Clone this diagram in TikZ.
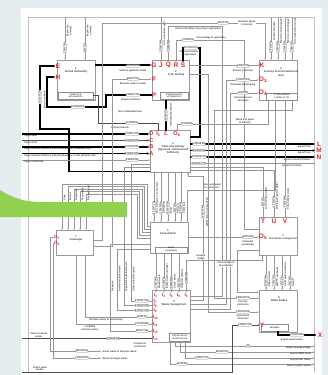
\documentclass[tikz,border=0pt]{standalone}
\usepackage{fontspec}
\setmainfont{Liberation Sans}
\usetikzlibrary{arrows.meta,positioning,calc}

\definecolor{pagebg}{RGB}{229,237,241}
\definecolor{leaf}{RGB}{146,208,80}
\definecolor{tagred}{RGB}{228,32,38}
\definecolor{flowgrey}{RGB}{150,150,150}

\tikzset{
  box/.style={draw=black!40, fill=white, line width=0.4pt, anchor=north west, inner sep=0pt},
  subbox/.style={draw=black!45, fill=white, line width=0.3pt, anchor=north west, inner sep=0.2pt, align=center, font=\fontsize{2.3}{2.6}\selectfont},
  title/.style={font=\fontsize{2.8}{3.1}\selectfont, align=center, inner sep=0pt},
  flow/.style={draw=flowgrey, line width=0.35pt},
  dark/.style={draw=black!70, line width=0.7pt},
  heavy/.style={draw=black, line width=1.4pt},
  arr/.style={-{Latex[length=1.6pt,width=1.4pt]}},
  harr/.style={-{Latex[length=2.4pt,width=2.4pt]}},
  val/.style={draw=black!50, fill=white, rounded corners=0.9pt, inner sep=0.35pt, line width=0.25pt, font=\fontsize{2.3}{2.5}\selectfont},
  note/.style={font=\fontsize{2.5}{2.8}\selectfont, align=center, inner sep=0.2pt},
  tag/.style={text=tagred, font=\fontsize{6.5}{6.5}\selectfont\bfseries, inner sep=0pt},
  stag/.style={text=tagred, font=\fontsize{4.6}{4.6}\selectfont\bfseries, inner sep=0pt},
}

\begin{document}
\begin{tikzpicture}[x=1pt, y=-1pt]
\useasboundingbox (0,0) rectangle (328,375);

% Page and frame
\fill[pagebg] (0,0) rectangle (328,375);
\fill[white] (21,8) rectangle (322,375);
\draw[flow, draw=black!25] (28,372) |- (314,17) -- (314,372);

% Sector boxes
\node[box, minimum width=38pt, minimum height=40pt] (anim) at (57,60) {};
\node[box, minimum width=37pt, minimum height=40pt] (crop) at (152,60) {};
\node[box, minimum width=38pt, minimum height=40pt] (forest) at (259,60) {};
\node[box, minimum width=40pt, minimum height=42pt] (trade) at (150,130) {};
\node[box, minimum width=38pt, minimum height=31pt] (cons) at (150,222) {};
\node[box, minimum width=37pt, minimum height=25pt] (sewer) at (56,230) {};
\node[box, minimum width=38pt, minimum height=38pt] (wwm) at (259,217) {};
\node[box, minimum width=38pt, minimum height=52pt] (waste) at (152,290) {};
\node[box, minimum width=38pt, minimum height=42pt] (water) at (259,290) {};

% Box titles
\node[title] (animt) at (76,70) {1\\Animal husbandry};
\node[title] (cropt) at (176,73) {2\\Crop farming};
\node[title] (forestt) at (281,72) {3\\Forestry and miscellaneous\\land};
\node[title] (tradet) at (173,148) {4\\Trade and industry\\(Agri-food, chemical and\\fertilizers)};
\node[title] (const) at (168,232) {5\\Consumption};
\node[title] (wastet) at (174,303) {6\\Waste management};
\node[title] (sewert) at (76,238) {7\\Sewerage};
\node[title] (watert) at (279,299) {8\\Water bodies};
\node[title, font=\fontsize{2.5}{2.8}\selectfont] (wwmt) at (283,237) {9\\Stormwater management};

% Balance sub-boxes
\node[subbox, minimum width=35pt, minimum height=7pt] (animsub) at (58,92) {2,916±7.1\%\\±13.4±48.2\%};
\node[subbox, minimum width=28pt, minimum height=7pt] (cropsub) at (160,92) {8,368,500±6.1\%\\±1,058±11.4\%};
\node[subbox, minimum width=31pt, minimum height=7pt] (forestsub) at (266,92.5) {17,905,000±6\%\\±1,895±17.7\%};
\node[subbox, minimum width=32pt, minimum height=6pt] (conssub) at (155,246.5) {Home\\composters};
\node[subbox, minimum width=21pt, minimum height=8pt] (wastesub) at (169,333) {390,000±8.2\%\\±8,000±51.2\%};
\node[subbox, minimum width=27pt, minimum height=7pt] (watersub) at (261,324) {480±48\%};

% Red flow tags
\node[tag] (E) at (58,66) {E};
\node[tag] (H) at (58,77) {H};
\foreach \n/\x in {G/154, J/161, Q/168.5, R/176, S/183}
  \node[tag] (\n) at (\x,65) {\n};
\node[tag] (F) at (154,79) {F};
\node[tag] (P) at (154,95) {P};
\node[tag] (K) at (262,65) {K};
\node[tag] (O3) at (263,80) {O\textsubscript{3}};
\node[tag] (O4) at (263,93) {O\textsubscript{4}};
\node[tag, font=\fontsize{5.6}{5.6}\selectfont\bfseries] (D) at (151.5,134) {D};
\node[tag, font=\fontsize{5.6}{5.6}\selectfont\bfseries] (C) at (151.5,140.5) {C};
\node[tag, font=\fontsize{5.6}{5.6}\selectfont\bfseries] (B) at (151.5,147) {B};
\node[tag, font=\fontsize{5.6}{5.6}\selectfont\bfseries] (A) at (151.5,153.5) {A};
\node[tag, font=\fontsize{5.6}{5.6}\selectfont\bfseries] (I1) at (158.5,134) {I\textsubscript{1}};
\node[tag, font=\fontsize{5.6}{5.6}\selectfont\bfseries] (Ltop) at (166,134) {L};
\node[tag, font=\fontsize{5.6}{5.6}\selectfont\bfseries] (O6) at (177,134) {O\textsubscript{6}};
\node[tag] (Lr) at (319,144) {L};
\node[tag] (M) at (319,150.5) {M};
\node[tag] (N) at (319,157) {N};
\foreach \n/\x in {T/263, U/274, V/285}
  \node[tag] (\n) at (\x,221) {\n};
\node[tag] (O5) at (263,237) {O\textsubscript{5}};
\node[stag] (O1) at (57,237) {O\textsubscript{1}};
\node[stag] (O2) at (57,243) {O\textsubscript{2}};
\foreach \n/\x in {2/156, 3/164, 4/171.5, 5/179, 6/186.5}
  \node[stag] (I\n) at (\x,295) {I\textsubscript{\n}};
\foreach \n/\y in {7/301, 8/305.5, 9/310.5, 10/317, 11/324, 12/331, 13/338.5}
  \node[stag] (I\n) at (155.5,\y) {I\textsubscript{\n}};
\node[tag] (Y) at (262,325) {Y};
\node[tag] (X) at (320,335) {X};

% Heavy flows
\draw[heavy, harr] ([yshift=0.8pt]trade.south west) -| (69,129) -| (40,66) -- (E.west);
\node[val, rotate=90] (vE) at (40,97) {13,410±8.1\%};
\node[note, rotate=90] (tE) at (44.5,100) {Feed to animals};
\draw[heavy, harr] (anim.east |- G.west) -- (G.west);
\node[val] (vG) at (133,66) {36,790±9.3\%};
\node[note] (tG) at (133,71) {Manure applied to fields};
\draw[heavy, harr] (P.west) -| (106,107) -| (47,77) -- (H.west);
\node[val] (vH) at (78,107) {10,054±8.1\%};
\node[val] (vP) at (133,95) {2,390±17.5\%};
\node[note] (tP) at (131,99.5) {Organic fertilizers};
\node[note] (tH) at (130,112) {Non marketable feed};
\draw[heavy, harr] (crop.south -| Ltop.north) -- (Ltop.north);
\node[val, rotate=90] (vL) at (166,115) {28,900±7\%};
\node[note, rotate=90] (tL) at (171,115) {Agricultural products};
\draw[heavy, harr] (trade.east |- 0,137) -| (200,48) -| (S.north);
\node[val] (vS) at (191,48) {24,700±2.1\%};
\node[note, anchor=east] (tS) at (199,53.5) {Mineral fertilizers\\to agriculture};

% Imports to trade and industry
\foreach \n/\w/\v/\t in {D/heavy/{13,090±7.2\%}/{Import feed}, C/dark/{15,580±6.2\%}/{Import food}, B/heavy/{12,750±5.2\%}/{Import mineral fertilizers and phosphate ore to domestic use}, A/heavy/{12,580±7.5\%}/{Import mineral fertilizers and phosphate ore to non-domestic use}} {
  \draw[\w, harr] (\n.west -| 22,0) -- (\n.west);
  \node[val] (v\n) at (\n.west -| 132,0) {\v};
  \node[note, anchor=north west] (t\n) at ([yshift=-0.7pt]\n.west -| 24,0) {\t};
}
\draw[flow, arr] (22,160) -- (trade.west |- 0,160);
\node[val] (vchem) at (132,160) {2,544±5.2\%};
\node[note, anchor=north west] (tchem) at (24,160.7) {Import chemicals};

% Animal products to trade
\draw[dark, arr] (animsub.east) -| (98,123) -| (I1.north);
\node[val] (vI1) at (132,123) {12,090±8\%};
\node[note] (tI1) at (120,127.5) {Animal products};

% Exports from trade and industry
\foreach \n/\v/\t in {Lr/{2,330±8.3\%}/{Export feed}, M/{8,530±10\%}/{Export food}, N/{11,100±11.2\%}/{Export mineral fertilizers}} {
  \draw[heavy, harr] (\n.west -| trade.east) -- (\n.west -| 315,0);
  \node[val] (v\n) at (\n.west -| 199,0) {\v};
  \node[note, anchor=north east] (t\n) at ([yshift=-1pt]\n.west -| 311,0) {\t};
}
\draw[flow, arr] (trade.east |- 0,163.5) -- (315,163.5);
\node[val] (vxchem) at (199,163.5) {3,190±14.7\%};
\node[note, anchor=north east] (txchem) at (302,164.2) {Export chemicals};

% Live animals
\foreach \x/\n/\v/\t in {65/ex/{1,160±12\%}/{Export live\\animals}, 85/im/{340±21\%}/{Import live\\animals}} {
  \draw[flow, arr] (\x,17) -- (anim.north -| \x,0);
  \node[val, rotate=90] (v\n) at (\x,48) {\v};
  \node[note, rotate=90] (t\n) at (\x+4,31) {\t};
}

% Inputs on top of crop farming
\draw[flow, arr] (J.north |- 0,17) -- (J.north);
\node[val, rotate=90] (vJ) at (161,46) {5,300±30\%};
\node[note, rotate=90] (tJ) at (164.5,33) {Atm. deposition agric.};
\draw[flow, arr] (waste.east |- 0,296) -| (222,26) -| (Q.north);
\node[val, rotate=90] (vQ) at (168.5,46) {1,320±35\%};
\node[note, anchor=north west, fill=white] (tQ) at (175,27) {Direct and indirect recycling in agriculture};
\draw[flow, arr] (wwm.west |- 0,229) -| (244,40) -| (R.north);
\node[val] (vR) at (188,40) {1,340±11\%};
\node[note, anchor=south west] (tR) at (196,39.5) {Fecal sludge to agriculture};

% Biomass ashes
\draw[flow, arr] (sewer.east |- 0,240) -| (102,23) -| (forest.north -| 265,0);
\node[val] (vba) at (223,23) {330±7.1\%};
\node[note, fill=white] (tba) at (247,23) {Biomass ashes\\to forestry};
\draw[flow, arr] (sewer.east |- 0,246) -| (F.west -| 112,0) -- (F.west);
\node[val] (vF) at (133,79) {346±17.3\%};
\node[note] (tF) at (133,84) {Biomass ashes to fields};

% Forestry inputs
\foreach \x/\n/\v/\t in {271/f1/{4,610±9\%}/{Wood and paper}, 278/f2/{1,990±11\%}/{Import wood and paper}, 285/f3/{2,730±10\%}/{Export wood and paper}, 292/f4/{1,081±31\%}/{Atm. deposition forestry}} {
  \draw[flow, arr] (\x,17) -- (forest.north -| \x,0);
  \node[val, rotate=90] (v\n) at (\x,47) {\v};
  \node[note, rotate=90] (t\n) at (\x+3.3,31) {\t};
}
\draw[flow, arr] (crop.east |- K.west) -- (K.west);
\node[val] (vK) at (243,66) {2,306±7.2\%};
\node[note] (tK) at (243,71) {Erosion to forestry};
\draw[flow, arr] (waste.east |- 0,304) -| (O3.west -| 226,0) -- (O3.west);
\node[val] (vO3) at (243,80) {1,090±21.2\%};
\node[note] (tO3) at (243,85) {Substrate landscaping};
\draw[flow, arr] (waste.east |- 0,309) -| (O4.west -| 230,0) -- (O4.west);
\node[val] (vO4) at (243,93) {320±14\%};
\node[note] (tO4) at (243,99) {Recycled wood\\and paper};

% Forestry outputs
\draw[flow, arr] (forest.south -| 268,0) |- (O6.north |- 0,124) -- (O6.north);
\node[val] (vO6) at (187,124) {11,360±8\%};
\node[note, fill=white] (tO6) at (245,121) {Wood and paper\\to industry};
\draw[flow, arr] (forest.south -| 275,0) |- (187,190) -- (cons.north -| 187,0);
\node[note, fill=white] (twc) at (212,186) {Wood and paper\\to consumers};

% Trade and industry to consumption
\foreach \x/\v/\t [count=\i] in {154/{4,210±7.1\%}/{Min. fertilizers to consumers}, 161/{1,280±11\%}/Detergents, 168/{16,070±6.2\%}/Food, 175/{900±14\%}/{Pet food}, 181/{2,540±9\%}/Chemicals} {
  \draw[flow, arr] (trade.south -| \x,0) -- (cons.north -| \x,0);
  \node[val, rotate=90] (tc\i) at (\x,208) {\v};
  \node[note, rotate=90, anchor=west] (tct\i) at (\x+3,214) {\t};
}

% Water flows to stormwater management
\draw[flow, arr] (trade.east |- 0,167) -| (T.north);
\draw[flow, arr] (trade.east |- 0,170) -| (U.north);
\draw[flow, arr] (forest.south -| V.north) -- (V.north);
\foreach \n/\v/\t in {T/{620±14\%}/{Food industry water}, U/{1,240±9\%}/{Municipal industry water}, V/{1,610±19\%}/{Pulp industry water}} {
  \node[val, rotate=90] (v\n) at (\n.north |- 0,202) {\v};
  \node[note, rotate=90, anchor=west] (t\n) at ([xshift=3.2pt]\n.north |- 0,210) {\t};
}
\draw[flow, arr] (cons.east |- O5.west) -- (O5.west);
\node[val] (vO5) at (248,237) {8,030±7\%};
\node[note] (tO5) at (248,243) {Municipal\\wastewater};

% MBM meal
\draw[flow, arr] (waste.east |- 0,300) -| (203,176) -| (trade.south -| 188,0);
\node[val, rotate=90] (vmbm) at (203,212) {11,420±8.8\%};
\node[note, rotate=90] (tmbm) at (207,212) {MBM meal to animal feed};

% Consumption to sewerage
\foreach \i/\t in {0/Urine, 1/Faeces, 2/Greywater, 3/{Food waste}, 4/{Flushed food}} {
  \pgfmathsetmacro\ya{226+3*\i}
  \pgfmathsetmacro\xc{147-2.5*\i}
  \pgfmathsetmacro\yb{184+2.5*\i}
  \pgfmathsetmacro\xd{62+6*\i}
  \draw[flow, arr] (cons.west |- 0,\ya) -| (\xc,\yb) -| (\xd,230);
  \node[note, rotate=90, anchor=west] (sw\i) at (\xd+2.4,201) {\t};
}

% Consumption to waste management
\foreach \n/\v/\t in {2/{2,750±18\%}/{Mixed waste}, 3/{1,330±9\%}/{Bulky wood and paper}, 4/{2,190±12\%}/{Green waste}, 5/{480±20\%}/{Separate plastics}} {
  \draw[flow, arr] (cons.south -| I\n.north) -- (I\n.north);
  \node[val, rotate=90] (vI\n) at (I\n.north |- 0,283) {\v};
  \node[note, rotate=90, anchor=west] (tI\n) at ([xshift=3.2pt]I\n.north |- 0,289) {\t};
}
\draw[flow, arr] (wwm.south -| 262,0) |- (I6.north |- 0,260) -- (I6.north);
\node[val, rotate=90] (vI6) at (186.5,278) {2,180±26\%};
\node[note, fill=white] (tI6) at (201,257) {Sewage\\sludge};

% Waste management inputs from the left
\draw[flow, arr] (trade.west |- 0,164.5) -| (I7.west -| 131,0) -- (I7.west);
\draw[flow, arr] (trade.west |- 0,167.5) -| (I8.west -| 124,0) -- (I8.west);
\draw[flow, arr] (cons.west |- 0,249) -| (I9.west -| 117,0) -- (I9.west);
\draw[flow, arr] (sewer.south -| 85,0) |- (I10.west);
\draw[flow, arr] (sewer.south -| 76,0) |- (I11.west);
\draw[flow, arr] (cons.west |- 0,244) -| (I12.west -| 110,0) -- (I12.west);
\draw[dark, arr] (22,338.5) -- (I13.west);
\foreach \n/\v in {7/{4,260±17.3\%}, 8/{1,390±26.8\%}, 9/{4,020±17.3\%}, 10/{160±41\%}, 11/{2,170±26.8\%}, 12/{940±17.3\%}}
  \node[val] (vI\n) at (I\n.west -| 142,0) {\v};
\node[val] (vI13) at (113,338.5) {1,050±9.3\%};
\foreach \x/\n/\t in {131/a/{Other industrial waste}, 124/b/{Vegetable industrial waste}, 117/c/{Animal industrial waste}, 110/d/{Biowaste}} {
  \node[note, rotate=90, anchor=west] (iw\n) at (\x+2.6,292) {\t};
}
\node[note] (tI10) at (106,320) {Biomass ashes to composting};
\node[note] (tI11) at (90,328) {Landfilled\\biomass ashes};
\node[note, anchor=south west] (tI13) at (30,338) {Import external\\waste};
\node[note] (tcomp) at (140,345) {Compost to\\consumers};

% Sewerage outputs to the left
\draw[flow, arr] (O1.west) -| (50,351) -- (101,351);
\draw[flow, arr] (O2.west) -| (53,358) -- (101,358);
\node[val] (vO1) at (82,351) {380±20.5\%};
\node[val] (vO2) at (82,358) {1,060±25.5\%};
\node[note, anchor=west] (tO1) at (102,352) {Green waste to biomass plants};
\node[note, anchor=west] (tO2) at (102,359) {Waste to biogas plants};

% Waste management exports
\foreach \x/\y/\v/\t/\p in {175/346/{(0)}/{Export sewage sludge}/248, 180/352/{410±42.2\%}/{Export MBM meal}/222, 185/358/{2,080±17.1\%}/{Export filter cakes}/202, 170/364/{30±78.5\%}/{Export organic waste}/182} {
  \draw[flow, arr] (waste.south -| \x,0) |- (315,\y);
  \node[val] (vx\y) at (\p,\y) {\v};
  \node[note, anchor=north east] (tx\y) at (311,\y+0.7) {\t};
}

% Water bodies
\draw[flow, arr] (forest.south -| 292,0) |- (214,110) |- (water.west |- 0,298);
\node[val] (vfe) at (243,298) {2,990±26.7\%};
\node[note] (tfe) at (243,303.5) {Forestry\\emissions};
\draw[flow, arr] (crop.east |- 0,74) -| (208,312) -- (water.west |- 0,312);
\node[val] (vae) at (243,312) {1,910±22.3\%};
\node[note] (tae) at (243,317.5) {Agricultural\\emissions};
\draw[dark, arr] (22,372) -| (232,325) -- (Y.west);
\node[val] (vY) at (245,325) {3,380±27.8\%};
\node[note, anchor=south] (tY) at (40,371.3) {Import water\\bodies};
\draw[flow, arr] (wwm.west |- 0,250) -| (237,292) -- (water.west |- 0,292);
\node[note, fill=white] (tfg) at (226,264) {Fecal sludge to\\groundwater};
\foreach \x/\v/\t in {266/{10,620±9\%}/{Effluent water}, 274/{1,750±12\%}/{WWTP emissions}, 282/{970±17\%}/{Stormwater overflows}, 290/{520±29\%}/{Runoff}} {
  \draw[flow, arr] (wwm.south -| \x,0) -- (water.north -| \x,0);
  \node[val, rotate=90] (vw\x) at (\x,281) {\v};
  \node[note, rotate=90, anchor=west] (tw\x) at (\x+3.2,287) {\t};
}
\draw[heavy, harr] (watersub.south -| 278,0) |- ([xshift=-1pt]X.west);
\node[val] (vX) at (297,335) {1,542±24.8\%};
\node[note] (tX) at (292,340) {Export water bodies};

% Green band
\fill[leaf] (0,190) .. controls (14,199) and (26,202) .. (42,202) -- (127,202) -- (127,217) -- (0,217) -- cycle;
\end{tikzpicture}
\end{document}
